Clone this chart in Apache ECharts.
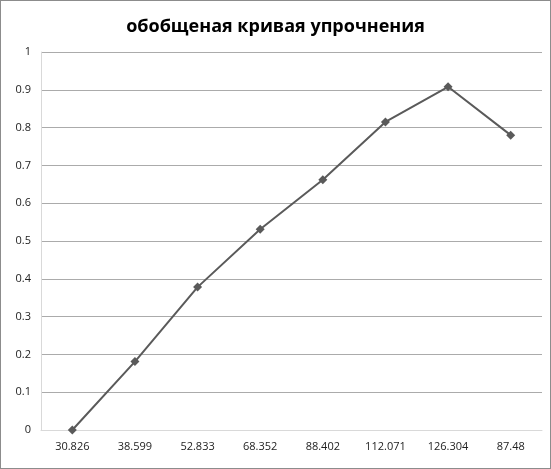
<!DOCTYPE html>
<html><head><meta charset="utf-8">
<style>html,body{margin:0;padding:0;background:#fff}
#c{width:551px;height:469px;box-sizing:border-box;border:1px solid #8c8c8c;}</style>
<script src="https://cdn.jsdelivr.net/npm/echarts@6/dist/echarts.min.js"></script>
</head><body><div id="c"></div>
<script>
const titleText = 'обобщеная кривая упрочнения';
const categories = ['30.826','38.599','52.833','68.352','88.402','112.071','126.304','87.48'];
const values = [0, 0.181, 0.378, 0.531, 0.662, 0.815, 0.908, 0.780];
const chart = echarts.init(document.getElementById('c'));
chart.setOption({
  animation:false,
  title:{text:titleText,left:'center',top:12,textStyle:{fontFamily:'Open Sans',fontWeight:'bold',fontSize:18,color:'#000'}},
  grid:{left:40,right:8,top:51,bottom:38},
  xAxis:{type:'category',data:categories,boundaryGap:true,
    axisLine:{lineStyle:{color:'#d9d9d9'}},axisTick:{show:false},
    axisLabel:{color:'#222',fontFamily:'Open Sans',fontSize:11,margin:11}},
  yAxis:{type:'value',min:0,max:1,interval:0.1,
    axisLine:{show:true,lineStyle:{color:'#d9d9d9'}},axisTick:{show:false},
    splitLine:{lineStyle:{color:'#ababab'}},
    axisLabel:{color:'#222',fontFamily:'Open Sans',fontSize:11,margin:10,formatter:v=>String(+v.toFixed(1))}},
  series:[{type:'line',data:values,symbol:'diamond',symbolSize:9,
    lineStyle:{color:'#5a5a5a',width:2},itemStyle:{color:'#5a5a5a'}}]
});
</script></body></html>
